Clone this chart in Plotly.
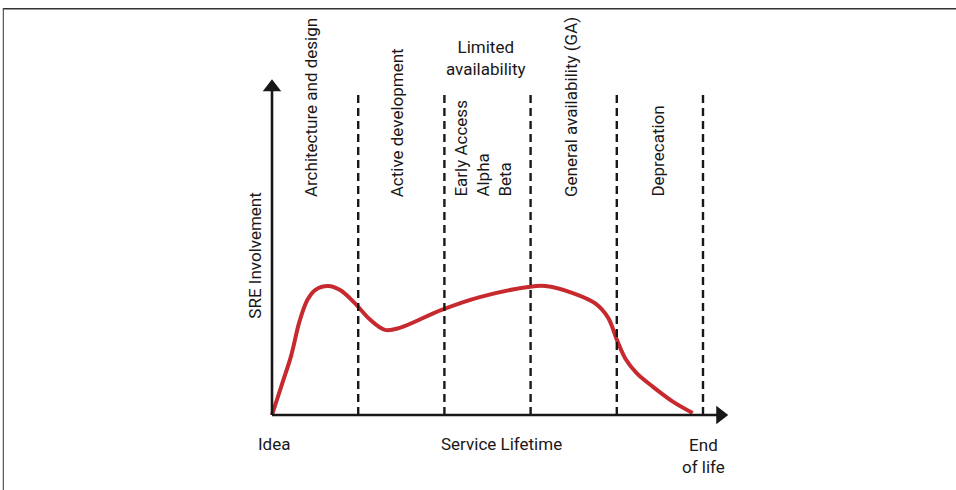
import plotly.graph_objects as go

# phase boundaries along the service lifetime (dashed lines)
phase_edges = [1, 2, 3, 4, 5]

# SRE involvement curve
curve_x = [0.0, 0.12, 0.22, 0.32, 0.41, 0.5, 0.65, 0.79, 0.96, 1.14, 1.31, 1.48,
           1.96, 2.41, 2.97, 3.17, 3.49, 3.75, 3.9, 4.0, 4.1, 4.23, 4.42,
           4.65, 4.88]
curve_y = [0.0, 9.5, 17.5, 28.0, 34.3, 37.3, 38.5, 37.3, 33.4, 28.4, 25.4, 26.0,
           31.3, 35.2, 38.2, 38.5, 36.4, 33.3, 29.0, 22.5, 16.8, 12.5, 8.4,
           4.0, 0.6]

phase_labels = ["Architecture and design", "Active development",
                "Early Access<br>Alpha<br>Beta", "General availability (GA)",
                "Deprecation"]
phase_label_x = [0.46, 1.46, 2.45, 3.47, 4.48]

FONT = "Roboto"
INK = "#1a1718"
RED = "#c62a2f"

X_TIP = 5.28
Y_TIP = 100
DASH_TOP = 96.4

fig = go.Figure()

for xe in phase_edges:
    fig.add_shape(type="line", x0=xe, x1=xe, y0=0, y1=DASH_TOP,
                  line=dict(color=INK, width=2.4, dash="8px,5px"))

# axes
fig.add_shape(type="line", x0=0, x1=X_TIP - 0.1, y0=0, y1=0, line=dict(color=INK, width=2.6))
fig.add_shape(type="line", x0=0, x1=0, y0=0, y1=Y_TIP - 3, line=dict(color=INK, width=2.6))
fig.add_trace(go.Scatter(x=[X_TIP - 0.08], y=[0], mode="markers",
                         marker=dict(symbol="triangle-right", size=16, color=INK),
                         hoverinfo="skip"))
fig.add_trace(go.Scatter(x=[0], y=[Y_TIP - 2.2], mode="markers",
                         marker=dict(symbol="triangle-up", size=16, color=INK),
                         hoverinfo="skip"))

fig.add_trace(go.Scatter(x=curve_x, y=curve_y, mode="lines",
                         line=dict(color=RED, width=4, shape="spline", smoothing=1.0),
                         hoverinfo="skip"))

txt = dict(family=FONT, size=17, color=INK)
for lab, lx in zip(phase_labels, phase_label_x):
    fig.add_annotation(x=lx, y=64.5, text=lab, textangle=-90, showarrow=False,
                       xanchor="center", yanchor="bottom", align="left", font=txt)

fig.add_annotation(x=2.48, y=106.6, text="Limited<br>availability", showarrow=False,
                   xanchor="center", yanchor="middle", font=txt)
fig.add_annotation(x=-0.2, y=47.5, text="SRE Involvement", textangle=-90, showarrow=False,
                   xanchor="center", yanchor="middle", font=txt)
fig.add_annotation(x=0.02, y=-8.7, text="Idea", showarrow=False,
                   xanchor="center", yanchor="middle", font=txt)
fig.add_annotation(x=2.66, y=-8.7, text="Service Lifetime", showarrow=False,
                   xanchor="center", yanchor="middle", font=txt)
fig.add_annotation(x=5.0, y=-5.4, text="End<br>of life", showarrow=False,
                   xanchor="center", yanchor="top", font=txt)

# frame lines at top and left
fig.add_shape(type="line", xref="paper", yref="paper", x0=0.003, x1=1, y0=0.982, y1=0.982,
              line=dict(color="#333333", width=1.5))
fig.add_shape(type="line", xref="paper", yref="paper", x0=0.0035, x1=0.0035, y0=0, y1=0.982,
              line=dict(color="#555555", width=1.2))

fig.update_layout(
    width=956, height=490, autosize=False,
    margin=dict(l=0, r=0, t=0, b=0),
    paper_bgcolor="white", plot_bgcolor="white",
    showlegend=False,
    xaxis=dict(range=[-272 / 86.2, 684 / 86.2], visible=False, fixedrange=True),
    yaxis=dict(range=[-75 / 3.35, 415 / 3.35], visible=False, fixedrange=True),
)

fig.write_html("out.html", config={"displayModeBar": False},
               post_script="document.body.style.margin='0';")
